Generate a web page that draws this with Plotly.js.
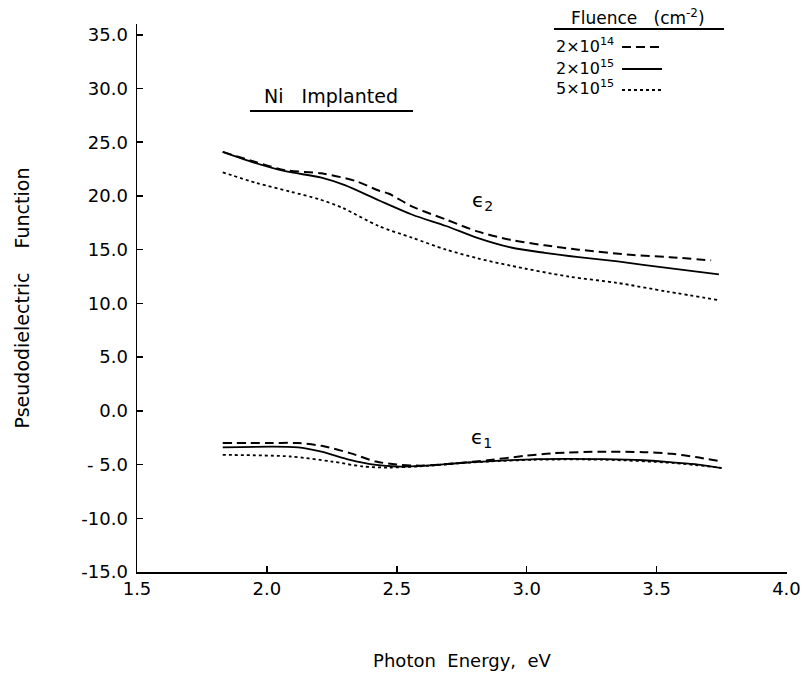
<!DOCTYPE html>
<html>
<head>
<meta charset="utf-8">
<script src="https://cdn.plot.ly/plotly-3.0.1.min.js"></script>
<style>html,body{margin:0;padding:0;background:#fff;}#chart{width:804px;height:689px;}</style>
</head>
<body>
<div id="chart"></div>
<script>
// ε2 curves
const e2_x_14 = [1.83, 1.95, 2.07, 2.21, 2.34, 2.43, 2.47, 2.56, 2.69, 2.81, 2.94, 3.07, 3.20, 3.41, 3.55, 3.71];
const e2_y_14 = [24.1, 23.2, 22.4, 22.1, 21.4, 20.5, 20.2, 19.0, 17.8, 16.7, 15.9, 15.4, 15.0, 14.5, 14.3, 14.0];
const e2_x_215 = [1.83, 1.95, 2.07, 2.21, 2.30, 2.43, 2.56, 2.69, 2.81, 2.94, 3.07, 3.20, 3.35, 3.54, 3.74];
const e2_y_215 = [24.1, 23.1, 22.3, 21.7, 21.0, 19.6, 18.25, 17.2, 16.1, 15.2, 14.7, 14.3, 13.9, 13.3, 12.7];
const e2_x_515 = [1.83, 1.96, 2.09, 2.20, 2.29, 2.43, 2.56, 2.69, 2.81, 2.94, 3.16, 3.35, 3.54, 3.74];
const e2_y_515 = [22.2, 21.2, 20.4, 19.7, 18.9, 17.2, 16.1, 15.0, 14.2, 13.5, 12.5, 11.9, 11.1, 10.3];
// ε1 curves
const e1_x_14 = [1.83, 2.00, 2.12, 2.21, 2.32, 2.42, 2.50, 2.60, 2.73, 2.85, 2.99, 3.10, 3.30, 3.45, 3.56, 3.65, 3.75];
const e1_y_14 = [-3.0, -3.0, -3.0, -3.26, -3.94, -4.72, -5.0, -5.1, -4.88, -4.6, -4.2, -3.95, -3.8, -3.85, -4.0, -4.3, -4.72];
const e1_x_215 = [1.83, 2.12, 2.21, 2.32, 2.42, 2.50, 2.60, 2.73, 2.85, 3.04, 3.30, 3.45, 3.56, 3.66, 3.75];
const e1_y_215 = [-3.4, -3.4, -3.8, -4.56, -5.03, -5.18, -5.12, -4.88, -4.7, -4.5, -4.5, -4.6, -4.8, -5.0, -5.34];
const e1_x_515 = [1.83, 2.09, 2.25, 2.37, 2.47, 2.60, 2.73, 2.85, 3.04, 3.30, 3.56, 3.75];
const e1_y_515 = [-4.1, -4.25, -4.72, -5.18, -5.28, -5.15, -4.9, -4.72, -4.55, -4.55, -4.85, -5.3];

const fluenceLabels = ["2×10<sup>14</sup>", "2×10<sup>15</sup>", "5×10<sup>15</sup>"];
const xTickVals = [1.5, 2.0, 2.5, 3.0, 3.5, 4.0];
const xTickText = ["1.5", "2.0", "2.5", "3.0", "3.5", "4.0"];
const yTickVals = [-15, -10, -5, 0, 5, 10, 15, 20, 25, 30, 35];
const yTickText = ["-15.0", "-10.0", "- 5.0", "0.0", "5.0", "10.0", "15.0", "20.0", "25.0", "30.0", "35.0"];

const FONT = "DejaVu Sans, sans-serif";
const dashes = ["9px,5px", "solid", "3px,3px"];
const widths = [2, 1.8, 1.8];

function tr(x, y, i) {
  return {x: x, y: y, type: 'scatter', mode: 'lines', showlegend: false, hoverinfo: 'skip',
    line: {color: '#000', width: widths[i], dash: dashes[i], shape: 'spline', smoothing: 0.8}};
}
const data = [
  tr(e2_x_14, e2_y_14, 0), tr(e2_x_215, e2_y_215, 1), tr(e2_x_515, e2_y_515, 2),
  tr(e1_x_14, e1_y_14, 0), tr(e1_x_215, e1_y_215, 1), tr(e1_x_515, e1_y_515, 2)
];

// paper coordinate helpers (plot area px: left 137, right 787, top 24, bottom 572)
const PX = p => (p - 137) / 650;
const PY = p => (572 - p) / 548;

function ann(text, px, py, size, xanchor) {
  return {text: text, x: PX(px), y: PY(py), xref: 'paper', yref: 'paper', showarrow: false,
    xanchor: xanchor || 'center', yanchor: 'middle', font: {family: FONT, size: size, color: '#000'}};
}
const annotations = [
  ann("Ni\u00a0\u00a0\u00a0Implanted", 331, 96, 19),
  ann("ϵ<sub>2</sub>", 483, 201, 20),
  ann("ϵ<sub>1</sub>", 481, 438, 20),
  ann("Fluence\u00a0\u00a0\u00a0(cm<sup>-2</sup>)", 638, 17, 17)
];
const rowsY = [45, 67, 88];
const shapes = [
  {type: 'line', xref: 'paper', yref: 'paper', x0: PX(250), x1: PX(413), y0: PY(111), y1: PY(111), line: {color: '#000', width: 2}},
  {type: 'line', xref: 'paper', yref: 'paper', x0: PX(554), x1: PX(724), y0: PY(29), y1: PY(29), line: {color: '#000', width: 2}}
];
fluenceLabels.forEach((lab, i) => {
  annotations.push(ann(lab, 616, rowsY[i], 16, 'right'));
  shapes.push({type: 'line', xref: 'paper', yref: 'paper', x0: PX(622), x1: PX(662), y0: PY(rowsY[i] + 2), y1: PY(rowsY[i] + 2),
    line: {color: '#000', width: widths[i], dash: dashes[i]}});
});

const layout = {
  width: 804, height: 689,
  margin: {l: 137, r: 17, t: 24, b: 117},
  paper_bgcolor: '#fff', plot_bgcolor: '#fff',
  font: {family: FONT, color: '#000'},
  xaxis: {
    range: [1.5, 4.002], tickvals: xTickVals, ticktext: xTickText,
    ticks: 'inside', ticklen: 6, tickwidth: 1.5, tickcolor: '#000', ticklabeloverflow: 'allow',
    showline: true, linecolor: '#000', linewidth: 1.5, showgrid: false, zeroline: false,
    tickfont: {family: FONT, size: 18, color: '#000'},
    title: {text: "Photon\u00a0\u00a0Energy,\u00a0\u00a0eV", font: {family: FONT, size: 18, color: '#000'}, standoff: 56}
  },
  yaxis: {
    range: [-15, 36], tickvals: yTickVals, ticktext: yTickText,
    ticks: 'inside', ticklen: 6, tickwidth: 1.5, tickcolor: '#000', ticklabelstandoff: 4,
    showline: true, linecolor: '#000', linewidth: 1.5, showgrid: false, zeroline: false,
    tickfont: {family: FONT, size: 18, color: '#000'},
    title: {text: "Pseudodielectric\u00a0\u00a0\u00a0\u00a0Function", font: {family: FONT, size: 19, color: '#000'}, standoff: 46}
  },
  annotations: annotations,
  shapes: shapes
};
Plotly.newPlot('chart', data, layout, {displayModeBar: false, staticPlot: true});
</script>
</body>
</html>
